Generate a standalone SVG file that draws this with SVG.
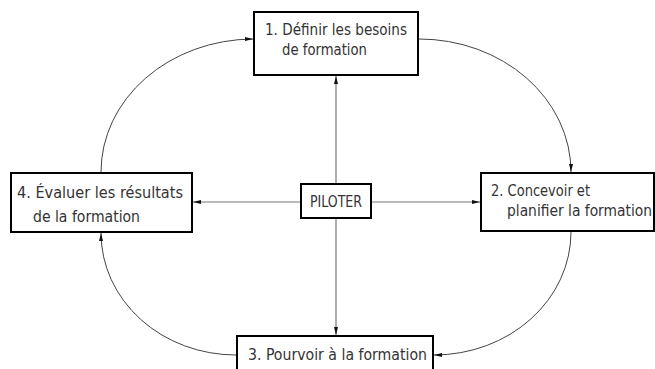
<svg xmlns="http://www.w3.org/2000/svg" width="655" height="369" viewBox="0 0 655 369">
  <style>
    .box { fill: #fff; stroke: #000; stroke-width: 2; }
    .lbl { font-family: "DejaVu Sans Condensed", "DejaVu Sans", sans-serif; font-stretch: condensed; font-size: 15px; fill: #333; }
    .link { fill: none; stroke: #777; stroke-width: 1.2; }
    .arc { fill: none; stroke: #444; stroke-width: 1; }
  </style>
  <defs>
    <marker id="ah" viewBox="0 0 8 4" refX="8" refY="2" markerWidth="8" markerHeight="4" markerUnits="userSpaceOnUse" orient="auto">
      <path d="M0,0 L8,2 L0,4 Z" fill="#111"/>
    </marker>
  </defs>
  <rect width="655" height="369" fill="#fff"/>

  <g id="connectors">
    <!-- hub spokes -->
    <line class="link" x1="336" y1="184" x2="336" y2="76" marker-end="url(#ah)"/>
    <line class="link" x1="336" y1="218" x2="336" y2="335" marker-end="url(#ah)"/>
    <line class="link" x1="301" y1="202" x2="193" y2="202" marker-end="url(#ah)"/>
    <line class="link" x1="371" y1="202" x2="480" y2="202" marker-end="url(#ah)"/>
    <!-- cycle arcs -->
    <path class="arc" d="M101,172 A153,133 0 0 1 253,39" marker-end="url(#ah)"/>
    <path class="arc" d="M419,39 A152,133 0 0 1 571,172" marker-end="url(#ah)"/>
    <path class="arc" d="M571,232 A137,123 0 0 1 434,355" marker-end="url(#ah)"/>
    <path class="arc" d="M236,355 A135,122 0 0 1 101,233" marker-end="url(#ah)"/>
  </g>

  <g id="n1">
    <rect class="box" x="254" y="12" width="164" height="63"/>
    <text class="lbl" x="265" y="35" textLength="142" lengthAdjust="spacingAndGlyphs">1. Définir les besoins</text>
    <text class="lbl" x="282" y="55" textLength="85" lengthAdjust="spacingAndGlyphs">de formation</text>
  </g>

  <g id="n2">
    <rect class="box" x="481" y="173" width="173" height="58"/>
    <text class="lbl" x="491" y="196" textLength="99" lengthAdjust="spacingAndGlyphs">2. Concevoir et</text>
    <text class="lbl" x="507" y="216" textLength="145" lengthAdjust="spacingAndGlyphs">planifier la formation</text>
  </g>

  <g id="n3">
    <rect class="box" x="237" y="336" width="196" height="40"/>
    <text class="lbl" x="248" y="360" textLength="179" lengthAdjust="spacingAndGlyphs">3. Pourvoir à la formation</text>
  </g>

  <g id="n4">
    <rect class="box" x="11" y="173" width="181" height="59"/>
    <text class="lbl" x="17" y="198" textLength="166" lengthAdjust="spacingAndGlyphs">4. Évaluer les résultats</text>
    <text class="lbl" x="33" y="222" textLength="107" lengthAdjust="spacingAndGlyphs">de la formation</text>
  </g>

  <g id="hub">
    <rect class="box" x="301" y="184" width="70" height="34"/>
    <text class="lbl" x="310" y="207" textLength="52" lengthAdjust="spacingAndGlyphs">PILOTER</text>
  </g>
</svg>
